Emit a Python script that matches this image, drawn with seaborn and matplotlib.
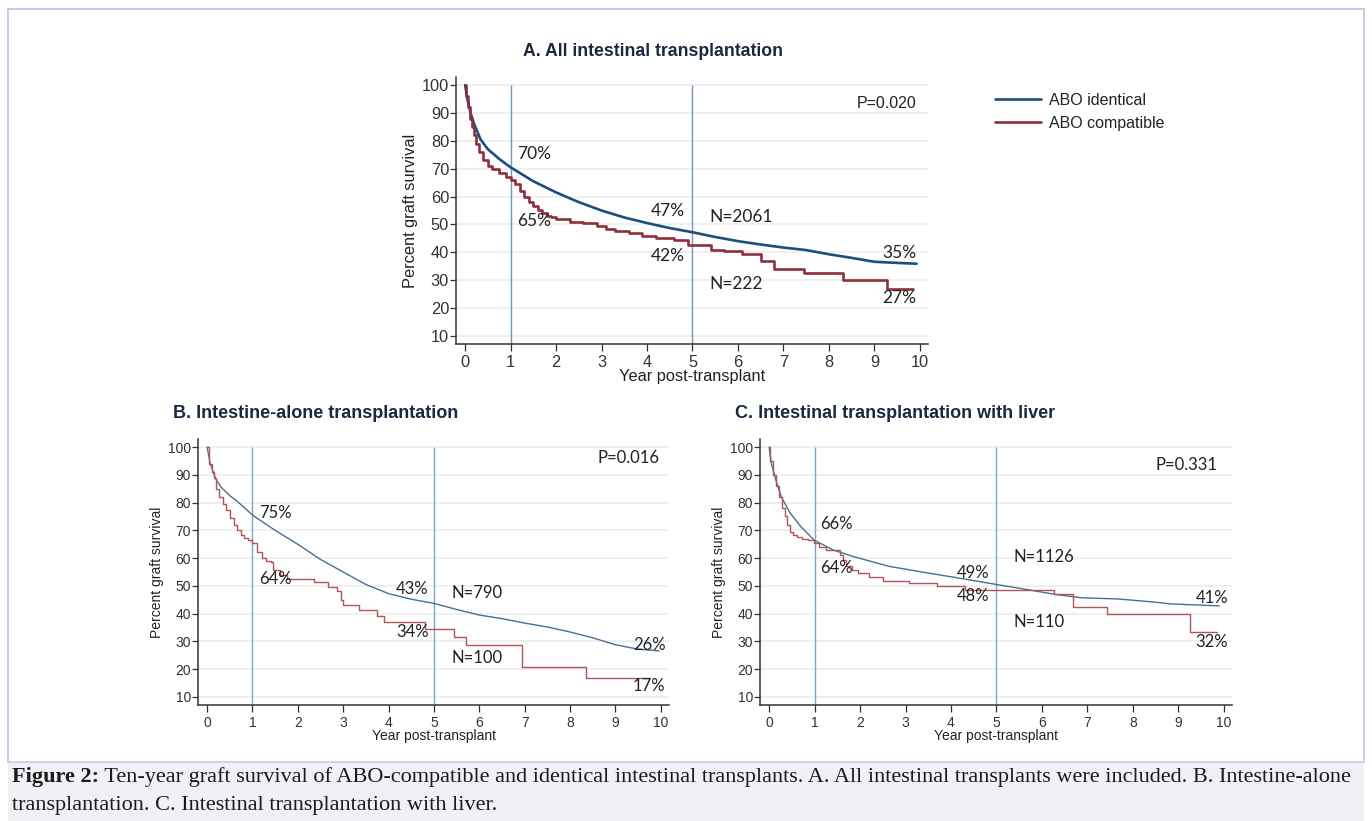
import matplotlib.pyplot as plt
import matplotlib.lines as mlines
from matplotlib.patches import Rectangle
import seaborn as sns

sns.set_style("white")
plt.rcParams['font.family'] = ['Liberation Sans', 'DejaVu Sans']

# ---- data (years, percent graft survival) ----
# A. All intestinal transplantation
a_ident_t = [0, 0.05, 0.12, 0.2, 0.34, 0.5, 0.75, 1.0, 1.5, 2.0, 2.5, 3.0, 3.5, 4.0, 4.5,
             5.0, 5.5, 6.0, 6.5, 7.0, 7.5, 8.0, 8.5, 9.0, 9.5, 9.93]
a_ident_s = [100, 95, 90, 86, 80.5, 77, 73.5, 70.5, 65.5, 61.5, 58, 55, 52.5, 50.5, 48.7,
             47.2, 45.5, 44, 42.8, 41.7, 40.8, 39.3, 38, 36.6, 36.2, 35.9]
a_compat_t = [0, 0.03, 0.06, 0.1, 0.15, 0.2, 0.25, 0.3, 0.4, 0.5, 0.6, 0.75, 0.9, 1.0, 1.1,
              1.2, 1.3, 1.4, 1.5, 1.6, 1.7, 1.8, 1.9, 2.0, 2.3, 2.6, 2.9, 3.1, 3.3, 3.6,
              3.9, 4.2, 4.6, 4.9, 5.4, 5.7, 6.1, 6.5, 6.8, 7.45, 8.3, 9.28, 9.86]
a_compat_s = [100, 96, 92, 88, 85, 82, 79, 76, 73, 71, 70, 68.5, 67, 66, 64.5,
              62, 60, 58, 56.5, 55, 54, 53, 52.5, 52, 51, 50.5, 49.5, 48.5, 47.5, 47,
              46, 45, 44.5, 42.5, 41, 40.5, 39.5, 37, 34, 32.7, 30.2, 27, 27]

# B. Intestine-alone transplantation
b_ident_t = [0, 0.07, 0.19, 0.31, 0.5, 0.66, 0.8, 1.0, 1.5, 2.0, 2.5, 3.0, 3.5, 4.0, 4.5,
             5.0, 5.5, 6.0, 6.5, 7.0, 7.5, 8.0, 8.5, 9.0, 9.5, 9.96]
b_ident_s = [100, 94, 88.5, 85.5, 82.5, 80.5, 78.5, 75.5, 70, 65, 59.5, 55, 50.5, 47.2, 45.2,
             43.7, 41.5, 39.5, 38.2, 36.6, 35.2, 33.4, 31.3, 28.8, 27.2, 26.6]
b_compat_t = [0, 0.04, 0.1, 0.15, 0.2, 0.27, 0.35, 0.42, 0.5, 0.59, 0.67, 0.74, 0.82, 0.9,
              1.0, 1.1, 1.22, 1.3, 1.41, 1.45, 1.6, 1.76, 2.35, 2.67, 2.87, 2.95, 3.0,
              3.35, 3.74, 3.9, 4.8, 5.44, 5.7, 6.95, 8.35, 9.76]
b_compat_s = [100, 94, 91, 89, 85, 82, 79.5, 77.3, 74.5, 72, 70, 68.3, 67.3, 66.5,
              65.4, 62.3, 60, 59, 58.7, 55.8, 54, 52.5, 51.4, 49.7, 48, 45, 43.2,
              41.4, 39, 37, 34.5, 31.7, 28.8, 20.9, 16.8, 16.8]

# C. Intestinal transplantation with liver
c_ident_t = [0, 0.05, 0.15, 0.27, 0.46, 0.7, 0.99, 1.4, 1.86, 2.65, 3.36, 4.14, 4.93,
             5.7, 6.34, 6.89, 7.67, 8.45, 8.84, 9.9]
c_ident_s = [100, 94, 88, 82, 76.3, 71.3, 66.5, 63, 60.5, 57, 55, 52.9, 50.7,
             48.6, 46.8, 45.7, 45.3, 44.2, 43.5, 42.8]
c_compat_t = [0, 0.03, 0.08, 0.15, 0.22, 0.28, 0.35, 0.4, 0.46, 0.53, 0.61, 0.72, 0.85,
              0.99, 1.1, 1.25, 1.56, 1.63, 1.7, 1.82, 1.95, 2.19, 2.5, 3.08, 3.7, 4.3,
              6.27, 6.69, 7.43, 9.25, 9.85]
c_compat_s = [100, 95, 90, 86, 82, 78, 75, 72, 69.4, 68.5, 67.6, 67, 66.5,
              65.4, 64, 63, 61, 59.4, 57, 55.8, 54.8, 53.2, 51.8, 51, 49.8, 48.5,
              47.1, 42.4, 39.9, 33.4, 33.4]

legend_labels = ["ABO identical", "ABO compatible"]
titles = ["A. All intestinal transplantation", "B. Intestine-alone transplantation",
          "C. Intestinal transplantation with liver"]
p_values = ["P=0.020", "P=0.016", "P=0.331"]
caption_bold = "Figure 2:"
caption_1 = (" Ten-year graft survival of ABO-compatible and identical intestinal transplants. "
             "A. All intestinal transplants were included. B. Intestine-alone")
caption_2 = "transplantation. C. Intestinal transplantation with liver."

# ---- figure ----
W, H = 1372, 821
fig = plt.figure(figsize=(W / 100, H / 100), dpi=100)

bg = fig.add_axes([0, 0, 1, 1], zorder=-5)
bg.set_xlim(0, W)
bg.set_ylim(H, 0)
bg.axis('off')
frame_col = '#c6c4e2'
bg.plot([8, 8, 1364, 1364], [762, 9.5, 9.5, 762], color=frame_col, lw=1.3)
bg.add_patch(Rectangle((8, 762), 1356, H - 762, facecolor='#f0f1f5', edgecolor='none'))
bg.plot([8, 1364], [762, 762], color='#cfcde8', lw=1.3)

YLO, YHI = 7.1, 102.9


def px_axes(left, top, right, bottom):
    return fig.add_axes([left / W, 1 - bottom / H, (right - left) / W, (bottom - top) / H])


def style_panel(ax, tick_fs, lab_fs, vcol):
    ax.set_xlim(-0.2, 10.18)
    ax.set_ylim(YLO, YHI)
    ax.set_xticks(range(0, 11))
    ax.set_yticks(range(10, 101, 10))
    ax.grid(axis='y', color='#ececec', lw=1.1)
    ax.grid(axis='x', visible=False)
    ax.set_axisbelow(True)
    for s in ['top', 'right']:
        ax.spines[s].set_visible(False)
    for s in ['left', 'bottom']:
        ax.spines[s].set_color('#333333')
        ax.spines[s].set_linewidth(1.1)
    ax.tick_params(axis='x', direction='out', length=5, width=0.9, color='#333333',
                   labelsize=tick_fs, labelcolor='#333333', pad=3, bottom=True)
    ax.tick_params(axis='y', direction='out', length=4, width=0.9, color='#333333',
                   labelsize=tick_fs, labelcolor='#333333', pad=1, left=True)
    ax.vlines([1, 5], YLO, 100, color=vcol, lw=1.0, zorder=1)
    ax.set_xlabel('Year post-transplant', fontsize=lab_fs, color='#222222', labelpad=-1)
    ax.set_ylabel('Percent graft survival', fontsize=lab_fs, color='#222222', labelpad=3)


def curves(ax, t1, s1, t2, s2, c1, c2, lw):
    sns.lineplot(x=t1, y=s1, ax=ax, color=c1, lw=lw, estimator=None, errorbar=None, zorder=3)
    sns.lineplot(x=t2, y=s2, ax=ax, color=c2, lw=lw, estimator=None, errorbar=None,
                 drawstyle='steps-post', zorder=3)


def notes(ax, items, fs):
    for x, y, txt, ha in items:
        ax.text(x, y, txt, ha=ha, va='center', fontsize=fs, color='#222222',
                family=['Lato', 'DejaVu Sans'])


title_col = '#1c2841'
A_BLUE, A_RED = '#1d4f7c', '#8e2f3c'
BC_BLUE, BC_RED = '#4a6f94', '#b0565b'

# Panel A
axA = px_axes(456, 77, 928, 344)
curves(axA, a_ident_t, a_ident_s, a_compat_t, a_compat_s, A_BLUE, A_RED, 1.9)
style_panel(axA, 11.8, 11.8, '#6f96bb')
axA.text(9.93, 93.5, p_values[0], ha='right', va='center', fontsize=11.5, color='#222222')
notes(axA, [(1.14, 75.2, '70%', 'left'), (1.14, 51.4, '65%', 'left'),
            (4.84, 54.7, '47%', 'right'), (4.84, 38.8, '42%', 'right'),
            (5.38, 52.5, 'N=2061', 'left'), (5.38, 28.8, 'N=222', 'left'),
            (9.93, 39.9, '35%', 'right'), (9.93, 23.7, '27%', 'right')], 12.5)
fig.text(653 / W, 1 - 52 / H, titles[0], ha='center', va='center', fontsize=12.7,
         fontweight='bold', color=title_col)

handles = [mlines.Line2D([], [], color=A_BLUE, lw=1.9),
           mlines.Line2D([], [], color=A_RED, lw=1.9)]
fig.legend(handles, legend_labels, loc='upper left', bbox_to_anchor=(995 / W, 1 - 93 / H),
           frameon=False, fontsize=11.5, handlelength=2.9, handletextpad=0.5,
           labelspacing=0.5, borderpad=0, borderaxespad=0, labelcolor='#222222')

# Panel B
axB = px_axes(198, 439, 669, 705)
curves(axB, b_ident_t, b_ident_s, b_compat_t, b_compat_s, BC_BLUE, BC_RED, 1.0)
style_panel(axB, 10, 10, '#7ea3c4')
notes(axB, [(9.96, 96, p_values[1], 'right'),
            (1.15, 76.3, '75%', 'left'), (1.15, 52.5, '64%', 'left'),
            (4.88, 48.9, '43%', 'right'), (4.88, 33.4, '34%', 'right'),
            (5.39, 47.4, 'N=790', 'left'), (5.39, 24, 'N=100', 'left'),
            (10.1, 28.8, '26%', 'right'), (10.1, 14, '17%', 'right')], 12)
fig.text(173 / W, 1 - 413 / H, titles[1], ha='left', va='center', fontsize=13,
         fontweight='bold', color=title_col)

# Panel C
axC = px_axes(760, 439, 1232, 705)
curves(axC, c_ident_t, c_ident_s, c_compat_t, c_compat_s, BC_BLUE, BC_RED, 1.0)
style_panel(axC, 10, 10, '#7ea3c4')
notes(axC, [(9.86, 93.5, p_values[2], 'right'),
            (1.12, 72.3, '66%', 'left'), (1.12, 56.5, '64%', 'left'),
            (4.85, 54.6, '49%', 'right'), (4.85, 46.4, '48%', 'right'),
            (5.38, 60.5, 'N=1126', 'left'), (5.38, 37, 'N=110', 'left'),
            (10.09, 45.7, '41%', 'right'), (10.09, 29.8, '32%', 'right')], 12)
fig.text(735 / W, 1 - 413 / H, titles[2], ha='left', va='center', fontsize=13,
         fontweight='bold', color=title_col)

# Caption
cap_fs = 16.0
t_bold = bg.text(12, 787, caption_bold, ha='left', va='bottom', fontsize=cap_fs,
                 fontweight='bold', family='Liberation Serif', color='#1a1a1a')
bg.annotate(caption_1, xy=(1, 0), xycoords=t_bold, ha='left', va='bottom',
            fontsize=cap_fs, family='Liberation Serif', color='#1a1a1a')
bg.text(12, 815, caption_2, ha='left', va='bottom', fontsize=cap_fs,
        family='Liberation Serif', color='#1a1a1a')

fig.savefig('out.png', dpi=100)
